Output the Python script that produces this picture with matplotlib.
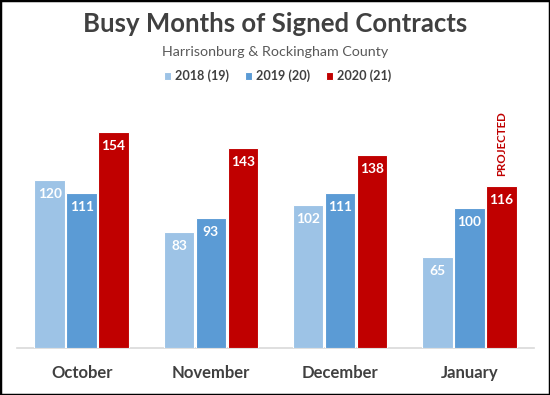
import matplotlib
matplotlib.use("Agg")
import matplotlib.pyplot as plt
from matplotlib.patches import Rectangle
import numpy as np

months = ["October", "November", "December", "January"]
series_names = ["2018 (19)", "2019 (20)", "2020 (21)"]
v2018 = [120, 83, 102, 65]
v2019 = [111, 93, 111, 100]
v2020 = [154, 143, 138, 116]
colors = ["#9DC3E6", "#5B9BD5", "#C00000"]

plt.rcParams['font.family'] = ['Lato', 'DejaVu Sans']

DPI = 100
fig = plt.figure(figsize=(5.5, 3.95), dpi=DPI)
W, H = 550, 395
renderer = fig.canvas.get_renderer()


def fitted_size(text, target_px, weight="bold", base=10.0):
    probe = fig.text(0, 0, text, fontsize=base, fontweight=weight)
    w = probe.get_window_extent(renderer=renderer).width
    probe.remove()
    return base * target_px / w


ax_left, ax_right = 17, 534
ax_bottom, ax_top = 348, 100
ax = fig.add_axes([ax_left / W, (H - ax_bottom) / H,
                   (ax_right - ax_left) / W, (ax_bottom - ax_top) / H])

x = np.arange(len(months))
offset = 0.247
width = 0.236
all_series = [v2018, v2019, v2020]

lab_fs = fitted_size("154", 24)

for k, (vals, col, name) in enumerate(zip(all_series, colors, series_names)):
    xs = x + (k - 1) * offset
    ax.bar(xs, vals, width=width, color=col, edgecolor="white",
           linewidth=0.8, label=name, zorder=3)
    for xi, v in zip(xs, vals):
        ax.annotate(str(v), (xi, v), xytext=(0, -14 * 72 / DPI),
                    textcoords="offset points", ha="center", va="center",
                    color="white", fontsize=lab_fs, fontweight="bold", zorder=4)

proj_fs = fitted_size("PROJECTED", 65)
ax.annotate("PROJECTED", (x[-1] + offset, v2020[-1]),
            xytext=(0, 10 * 72 / DPI), textcoords="offset points",
            ha="center", va="bottom", rotation=90, color="#C00000",
            fontsize=proj_fs, fontweight="bold")

ax.set_xlim(-0.5, len(months) - 0.5)
ax.set_ylim(0, (ax_bottom - ax_top) / 1.40)
ax.set_xticks(x)
month_fs = fitted_size("October", 62)
ax.set_xticklabels(months, fontsize=month_fs, fontweight="bold", color="#404040")
ax.tick_params(axis="x", length=0, pad=(373 - 348 - month_fs * 100 / 72 * 0.5) * 72 / DPI)
ax.set_yticks([])
for s in ["top", "right", "left"]:
    ax.spines[s].set_visible(False)
ax.spines["bottom"].set_color("#D9D9D9")
ax.spines["bottom"].set_linewidth(1.2)

fig.text(0.5, 1 - 24 / H, "Busy Months of Signed Contracts", ha="center",
         va="center", fontsize=fitted_size("Busy Months of Signed Contracts", 384),
         fontweight="bold", color="#404040")
fig.text(0.5, 1 - 52 / H, "Harrisonburg & Rockingham County", ha="center",
         va="center",
         fontsize=fitted_size("Harrisonburg & Rockingham County", 227, weight="normal"),
         color="#595959")

leg_fs = fitted_size("2018 (19)", 54)
em = leg_fs * DPI / 72
leg = fig.legend(loc="center", bbox_to_anchor=(278 / W, 1 - 76 / H), ncol=3,
                 frameon=False, fontsize=leg_fs, handlelength=7 / em,
                 handleheight=7 / em, handletextpad=4 / em,
                 columnspacing=16 / em, borderpad=0)
for tx in leg.get_texts():
    tx.set_color("#404040")
    tx.set_fontweight("bold")

fig.patches.append(Rectangle((0, 0), 1, 1, transform=fig.transFigure,
                             fill=False, edgecolor="black", linewidth=2.5))

fig.savefig("out.png", dpi=DPI)
